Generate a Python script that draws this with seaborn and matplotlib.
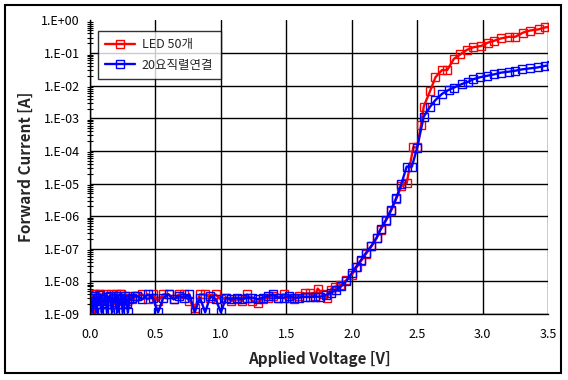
import numpy as np
import pandas as pd
import seaborn as sns
import matplotlib.pyplot as plt
from matplotlib.patches import Rectangle
from matplotlib.ticker import FuncFormatter, LogLocator, NullFormatter

sns.set_style("white")
plt.rcParams['font.family'] = ['Noto Sans CJK KR', 'DejaVu Sans']

# LED 50개 (red) : voltage [V], log10(current [A])
v_led = [0.00, 0.01, 0.02, 0.03, 0.04, 0.05, 0.06, 0.07, 0.08, 0.10, 0.11, 0.12, 0.14,
         0.15, 0.16, 0.18, 0.19, 0.20, 0.22, 0.23, 0.24, 0.26, 0.28, 0.30, 0.32,
         0.36, 0.40, 0.44, 0.48, 0.52,
         0.56, 0.60, 0.64, 0.68, 0.72, 0.76, 0.80, 0.84, 0.88, 0.92, 0.96, 1.00,
         1.04, 1.08, 1.12, 1.16, 1.20, 1.24, 1.28, 1.32, 1.36, 1.40, 1.44, 1.48,
         1.52, 1.56, 1.60, 1.64, 1.68, 1.72, 1.74, 1.78, 1.81, 1.84, 1.87, 1.91,
         1.96, 2.00, 2.04, 2.07, 2.11, 2.15, 2.19, 2.22, 2.26, 2.30, 2.34, 2.38,
         2.42, 2.47, 2.50, 2.53, 2.55, 2.60, 2.64, 2.69, 2.73, 2.78, 2.83, 2.88,
         2.93, 2.99, 3.04, 3.09, 3.14, 3.20, 3.25, 3.31, 3.36, 3.43, 3.48, 3.53]
logi_led = [-8.97, -8.97, -8.40, -8.97, -8.40, -8.60, -8.50, -8.38, -8.40, -8.55, -8.70, -8.40, -8.60,
            -8.45, -8.40, -8.55, -8.70, -8.40, -8.60, -8.38, -8.40, -8.50, -8.60, -8.45, -8.55,
            -8.45, -8.40, -8.55, -8.40, -8.60,
            -8.40, -8.40, -8.55, -8.40, -8.40, -8.60, -8.82, -8.40, -8.40, -8.50, -8.40, -8.55,
            -8.50, -8.60, -8.55, -8.60, -8.40, -8.60, -8.65, -8.55, -8.50, -8.45, -8.50, -8.40,
            -8.50, -8.55, -8.45, -8.37, -8.37, -8.45, -8.22, -8.40, -8.52, -8.25, -8.17, -8.12,
            -7.96, -7.80, -7.55, -7.38, -7.15, -6.93, -6.68, -6.42, -6.15, -5.84, -5.47, -5.08,
            -4.99, -3.89, -3.89, -3.20, -2.64, -2.15, -1.74, -1.52, -1.52, -1.18, -1.04, -0.90,
            -0.82, -0.78, -0.68, -0.62, -0.55, -0.50, -0.50, -0.37, -0.31, -0.27, -0.21, -0.19]

# 20요직렬연결 (blue)
v_ser = [0.00, 0.01, 0.02, 0.03, 0.04, 0.05, 0.06, 0.07, 0.08, 0.09, 0.10, 0.11, 0.12,
         0.13, 0.14, 0.15, 0.16, 0.17, 0.18, 0.19, 0.20, 0.21, 0.22, 0.23,
         0.24, 0.25, 0.26, 0.27, 0.28, 0.29, 0.30, 0.32, 0.34, 0.36, 0.40, 0.44, 0.48, 0.52, 0.56, 0.60,
         0.64, 0.68, 0.72, 0.76, 0.80, 0.84, 0.88, 0.92, 0.96, 1.00, 1.04, 1.08,
         1.12, 1.16, 1.20, 1.24, 1.28, 1.32, 1.36, 1.40, 1.44, 1.48, 1.52, 1.56,
         1.60, 1.64, 1.68, 1.72, 1.76, 1.80, 1.84, 1.88, 1.92, 1.96, 2.00, 2.03,
         2.07, 2.11, 2.15, 2.19, 2.22, 2.26, 2.30, 2.34, 2.38, 2.42, 2.46, 2.50,
         2.55, 2.60, 2.64, 2.69, 2.74, 2.78, 2.84, 2.89, 2.93, 2.98, 3.03, 3.09,
         3.14, 3.20, 3.25, 3.30, 3.36, 3.42, 3.48, 3.52]
logi_ser = [-8.50, -8.62, -8.95, -8.45, -8.60, -8.95, -8.50, -8.70, -8.42, -8.95, -8.55, -8.65, -8.48,
            -8.95, -8.60, -8.45, -8.70, -8.95, -8.50, -8.62, -8.45, -8.95, -8.55, -8.68,
            -8.50, -8.95, -8.58, -8.45, -8.65, -8.95, -8.55, -8.50, -8.45, -8.45, -8.55, -8.40, -8.50, -8.95, -8.50, -8.40,
            -8.55, -8.45, -8.50, -8.40, -8.95, -8.50, -8.95, -8.45, -8.55, -8.95, -8.50, -8.55,
            -8.50, -8.55, -8.50, -8.50, -8.55, -8.50, -8.45, -8.40, -8.50, -8.50, -8.45, -8.50,
            -8.50, -8.47, -8.47, -8.47, -8.47, -8.42, -8.35, -8.27, -8.15, -7.98, -7.75, -7.57,
            -7.35, -7.12, -6.91, -6.66, -6.40, -6.12, -5.81, -5.44, -5.00, -4.48, -4.48, -3.90,
            -2.95, -2.64, -2.44, -2.25, -2.13, -2.06, -1.95, -1.88, -1.80, -1.74, -1.70, -1.65,
            -1.60, -1.57, -1.54, -1.50, -1.47, -1.44, -1.39, -1.37]

labels = ['LED 50개', '20요직렬연결']
colors = ['red', 'blue']
x_ticks = [0.0, 0.5, 1.0, 1.5, 2.0, 2.5, 3.0, 3.5]
y_exps = list(range(-9, 1))

df = pd.concat([
    pd.DataFrame({'V': v_led, 'I': 10.0 ** np.array(logi_led), 'series': labels[0]}),
    pd.DataFrame({'V': v_ser, 'I': 10.0 ** np.array(logi_ser), 'series': labels[1]}),
])

fig = plt.figure(figsize=(5.68, 3.80), dpi=100)
ax = fig.add_axes([0.1585, 0.1737, 0.8063, 0.7724])

for lab, col in zip(labels, colors):
    sns.lineplot(data=df[df['series'] == lab], x='V', y='I', ax=ax, color=col,
                 sort=False, estimator=None, lw=1.7, marker='s', ms=5.5,
                 mfc='none', mec=col, mew=1.0, label=lab)

ax.set_yscale('log')
ax.set_xlim(0, 3.5)
ax.set_ylim(1e-9, 1)
ax.set_xticks(x_ticks)
ax.xaxis.set_major_formatter(FuncFormatter(lambda v, p: f'{v:.1f}'))
ax.set_yticks([10.0 ** e for e in y_exps])
ax.yaxis.set_major_formatter(FuncFormatter(lambda v, p: f'1.E{int(round(np.log10(v))):+03d}'))
ax.yaxis.set_minor_locator(LogLocator(base=10, subs=np.arange(2, 10), numticks=20))
ax.yaxis.set_minor_formatter(NullFormatter())

ax.grid(True, which='major', color='black', lw=1.0)
ax.yaxis.get_major_ticks()[-1].gridline.set_visible(False)
for s in ['top', 'right']:
    ax.spines[s].set_visible(False)
for s in ['left', 'bottom']:
    ax.spines[s].set_color('black')
    ax.spines[s].set_linewidth(1.0)

ax.tick_params(axis='x', which='major', direction='out', length=4, width=1,
               labelsize=9, pad=6, colors='black')
ax.tick_params(axis='y', which='major', direction='inout', length=7, width=1,
               labelsize=9, pad=4, colors='black')
ax.tick_params(axis='y', which='minor', direction='inout', length=5, width=0.8,
               colors='black', left=True)

ax.set_xlabel('Applied Voltage [V]', fontsize=11, fontweight='bold', labelpad=7)
ax.set_ylabel('Forward Current [A]', fontsize=11, fontweight='bold', labelpad=5)

leg = ax.legend(loc='upper left', bbox_to_anchor=(0.017, 0.965), borderaxespad=0,
                frameon=True, fancybox=False, edgecolor='black', fontsize=9,
                handlelength=2.4, handletextpad=0.5, borderpad=0.6, labelspacing=0.6)
leg.get_frame().set_linewidth(1.0)

fig.patches.append(Rectangle((0.0088, 0.0184), 0.979, 0.968, transform=fig.transFigure,
                             fill=False, edgecolor='black', lw=1.5))

fig.savefig('out.png', dpi=100)
